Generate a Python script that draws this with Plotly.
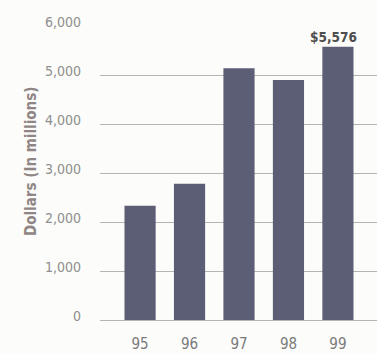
import plotly.graph_objects as go

# Annual totals, dollars in millions
years = ["95", "96", "97", "98", "99"]
dollars = [2330, 2780, 5140, 4900, 5576]
tick_vals = [0, 1000, 2000, 3000, 4000, 5000, 6000]
tick_text = ["0", "1,000", "2,000", "3,000", "4,000", "5,000", "6,000"]

W, H = 377, 354
L, R, T, B = 100, 0, 26, 34
PLOT_W, PLOT_H = W - L - R, H - T - B

BAR = "#5b5e74"
GRID = "#b4b4b4"
TICK = "#8e8e8e"
FONT = "DejaVu Sans Condensed, Liberation Sans Narrow, sans-serif"

fig = go.Figure(
    go.Bar(
        x=list(range(len(years))),
        y=dollars,
        marker=dict(color=BAR, line=dict(width=0)),
        width=0.63,
        hoverinfo="skip",
    )
)

# value callout above the latest year
fig.add_annotation(
    x=len(years) - 1, y=dollars[-1],
    xref="x", yref="y",
    text=f"<b>${dollars[-1]:,}</b>",
    showarrow=False, yanchor="bottom", yshift=0, xshift=-4,
    font=dict(family=FONT, size=13.5, color="#4d4d4d"),
)

# vertical axis title, placed in the left margin
fig.add_annotation(
    x=(20 - L) / PLOT_W, y=(T + PLOT_H - 162) / PLOT_H,
    xref="paper", yref="paper",
    text="<b>Dollars (In millions)</b>",
    showarrow=False, textangle=-90,
    font=dict(family=FONT, size=15, color="#8f8585"),
)

fig.update_layout(
    width=W, height=H,
    margin=dict(l=L, r=R, t=T, b=B, pad=0, autoexpand=False),
    paper_bgcolor="#fcfcfb",
    plot_bgcolor="#fcfcfb",
    showlegend=False,
    xaxis=dict(
        range=[-0.81, 4.79],
        automargin=False,
        tickvals=list(range(len(years))), ticktext=years,
        showgrid=False, zeroline=False, showline=False,
        ticks="", ticklabelstandoff=13,
        tickfont=dict(family=FONT, size=15, color="#7a7a7a"),
    ),
    yaxis=dict(
        range=[0, 6000],
        automargin=False,
        tickvals=tick_vals, ticktext=tick_text,
        showgrid=True, gridcolor=GRID, gridwidth=1,
        zeroline=True, zerolinecolor=GRID, zerolinewidth=1,
        showline=False, ticks="", ticklabelstandoff=18,
        ticklabelshift=-4,
        tickfont=dict(family=FONT, size=14, color=TICK),
    ),
)

fig.write_html("out.html")
